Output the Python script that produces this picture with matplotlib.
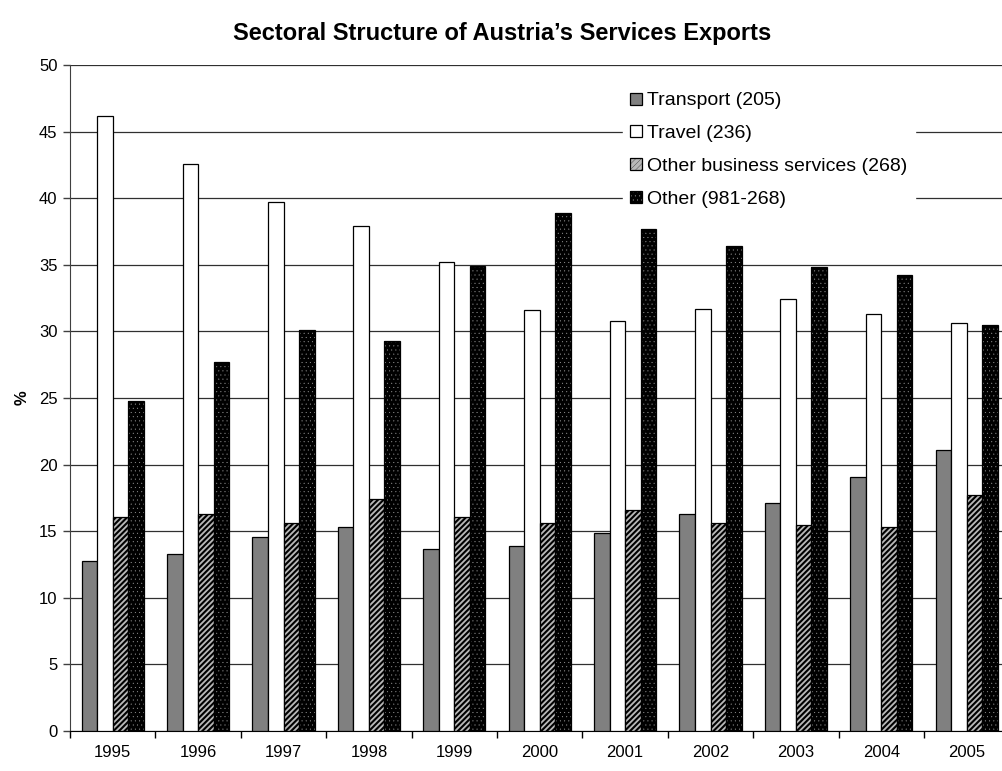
import numpy as np
import matplotlib
matplotlib.use("Agg")
import matplotlib.pyplot as plt
from matplotlib.legend_handler import HandlerTuple

plt.rcParams['font.family'] = ['Liberation Sans', 'DejaVu Sans']

years = ['1995', '1996', '1997', '1998', '1999', '2000', '2001', '2002', '2003', '2004', '2005']
transport = [12.8, 13.3, 14.6, 15.3, 13.7, 13.9, 14.9, 16.3, 17.1, 19.1, 21.1]
travel = [46.2, 42.6, 39.7, 37.9, 35.2, 31.6, 30.8, 31.7, 32.4, 31.3, 30.6]
business = [16.1, 16.3, 15.6, 17.4, 16.1, 15.6, 16.6, 15.6, 15.5, 15.3, 17.7]
other = [24.8, 27.7, 30.1, 29.3, 34.9, 38.9, 37.7, 36.4, 34.8, 34.2, 30.5]
labels = ['Transport (205)', 'Travel (236)', 'Other business services (268)', 'Other (981-268)']

fig = plt.figure(figsize=(10.02, 7.71), dpi=100)
# plot area runs a bit past the right edge, like the cropped original
ax = fig.add_axes([70/1002, 1 - 731/771, (1009.4 - 70)/1002, 666/771])

x = np.arange(len(years))
w = 1 / 5.5
lw = 0.9

b1 = ax.bar(x - 1.5*w, transport, w, color='#808080', edgecolor='black', linewidth=lw, zorder=3)
b2 = ax.bar(x - 0.5*w, travel, w, color='white', edgecolor='black', linewidth=lw, zorder=3)

plt.rcParams['hatch.linewidth'] = 1.5
b3h = ax.bar(x + 0.5*w, business, w, color='#b8b8b8', edgecolor='black', linewidth=0, hatch='//////', zorder=3)
b3 = ax.bar(x + 0.5*w, business, w, fill=False, edgecolor='black', linewidth=lw, zorder=4)

plt.rcParams['hatch.linewidth'] = 0.2
b4h = ax.bar(x + 1.5*w, other, w, color='black', edgecolor='#9a9a9a', linewidth=0, hatch='....', zorder=3)
b4 = ax.bar(x + 1.5*w, other, w, fill=False, edgecolor='black', linewidth=lw, zorder=4)

ax.set_xlim(-0.5, len(years) - 0.5)
ax.set_ylim(0, 50)
ax.set_yticks(np.arange(0, 51, 5))
ax.set_xticks(x)
ax.set_xticklabels(years)
ax.set_xticks(np.arange(-0.5, len(years), 1), minor=True)
ax.tick_params(axis='x', which='major', length=0, pad=10, labelsize=12)
ax.tick_params(axis='x', which='minor', length=5, width=1, direction='out')
ax.tick_params(axis='y', length=5, width=1, direction='out', labelsize=12, pad=4, color='#404040')

ax.yaxis.grid(True, color='#303030', linewidth=0.9, zorder=0)
ax.set_axisbelow(True)
for s in ['top', 'right']:
    ax.spines[s].set_visible(False)
ax.spines['left'].set_color('#404040')
ax.spines['bottom'].set_color('black')

ax.set_ylabel('%', fontsize=12, fontweight='bold', labelpad=7)
fig.text(0.501, 0.957, "Sectoral Structure of Austria\u2019s Services Exports",
         ha='center', va='center', fontsize=17, fontweight='bold')

leg = ax.legend([b1[0], b2[0], (b3h[0], b3[0]), (b4h[0], b4[0])], labels,
                handler_map={tuple: HandlerTuple(ndivide=1)},
                loc='upper left', bbox_to_anchor=(0.578, 0.985), frameon=True,
                fancybox=False, edgecolor='white', facecolor='white', framealpha=1,
                fontsize=14, handlelength=0.57, handleheight=0.57, handletextpad=0.3,
                labelspacing=0.81, borderpad=0.4)
leg.set_zorder(5)

fig.savefig('out.png', dpi=100)
